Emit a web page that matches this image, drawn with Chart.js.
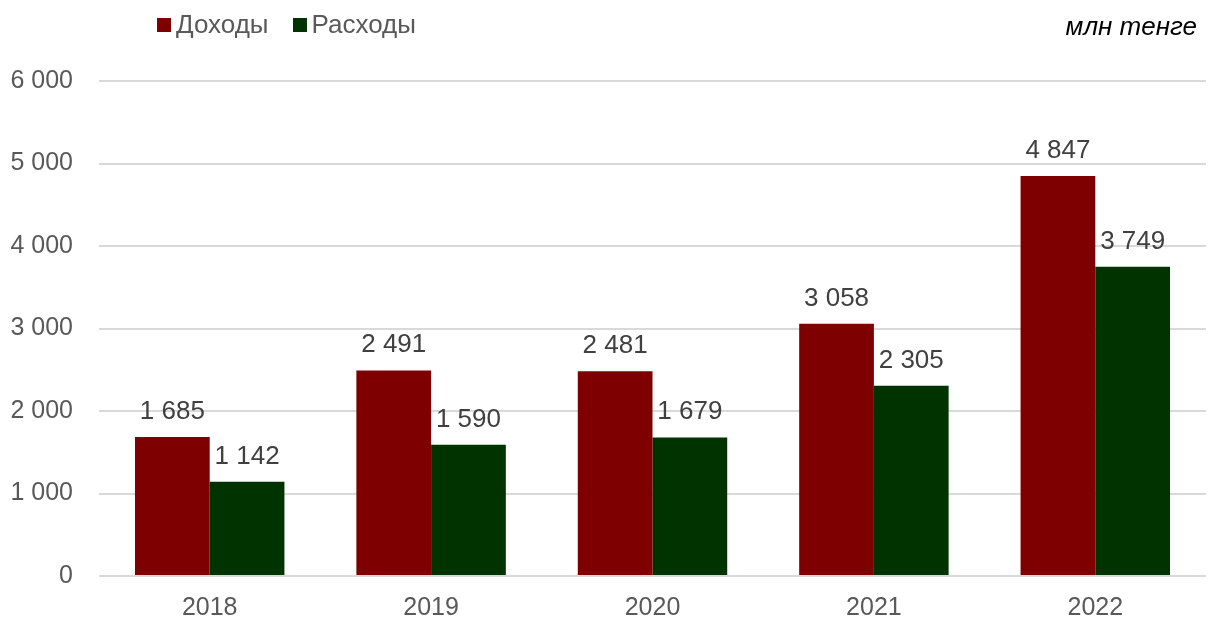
<!DOCTYPE html>
<html lang="ru">
<head>
    <meta charset="UTF-8">
    <title>Доходы и расходы</title>
    <style>
        body { margin: 0; background: #fff; font-family: "Liberation Sans", Arial, sans-serif; }
        .wrap { position: relative; width: 1209px; height: 619px; }
        .legenda { position: absolute; top: 9px; left: 157px; font-size: 26px; color: #595959; display: flex; }
        .legenda span { display: flex; align-items: center; margin-right: 24px; }
        .legenda i { display: inline-block; width: 14px; height: 14px; margin-right: 5px; }
        .unidade { position: absolute; top: 11px; right: 12px; font-size: 26px; font-style: italic; color: #000; }
    </style>
</head>
<body>
    <div class="wrap">
        <canvas id="grafico" width="1209" height="619"></canvas>
        <div class="legenda" id="legenda"></div>
        <div class="unidade">млн тенге</div>
    </div>

    <script src="https://cdn.jsdelivr.net/npm/chart.js"></script>
    <script>
        // dados
        const anos = ['2018', '2019', '2020', '2021', '2022'];
        const doxody = [1685, 2491, 2481, 3058, 4847];
        const rasxody = [1142, 1590, 1679, 2305, 3749];
        const nomes = ['Доходы', 'Расходы'];
        const cores = ['#7f0000', '#013301'];

        const fmt = v => String(v).replace(/\B(?=(\d{3})+(?!\d))/g, ' ');
        const fonte = '"Liberation Sans", Arial, sans-serif';

        // rótulos em cima das barras
        const rotulos = {
            id: 'rotulos',
            afterDatasetsDraw(chart) {
                const ctx = chart.ctx;
                ctx.save();
                ctx.font = '26px ' + fonte;
                ctx.fillStyle = '#404040';
                ctx.textAlign = 'center';
                ctx.textBaseline = 'alphabetic';
                chart.data.datasets.forEach((ds, i) => {
                    chart.getDatasetMeta(i).data.forEach((bar, j) => {
                        ctx.fillText(fmt(ds.data[j]), bar.x, bar.y - 18);
                    });
                });
                ctx.restore();
            }
        };

        const ctx = document.getElementById('grafico').getContext('2d');
        const grafico = new Chart(ctx, {
            type: 'bar',
            data: {
                labels: anos,
                datasets: [
                    { label: nomes[0], data: doxody, backgroundColor: cores[0], borderWidth: 0 },
                    { label: nomes[1], data: rasxody, backgroundColor: cores[1], borderWidth: 0 }
                ]
            },
            options: {
                responsive: false,
                animation: false,
                layout: { padding: { top: 81, right: 3, bottom: 0, left: 0 } },
                datasets: { bar: { categoryPercentage: 0.675, barPercentage: 1 } },
                plugins: {
                    legend: { display: false },
                    tooltip: { enabled: false }
                },
                scales: {
                    x: {
                        afterFit: s => { s.height = 43; },
                        grid: { display: false, drawTicks: false },
                        border: { display: false },
                        ticks: { color: '#595959', padding: 17, font: { size: 25, family: fonte } }
                    },
                    y: {
                        min: 0,
                        max: 6000,
                        afterFit: s => { s.width = 99; },
                        grid: { color: '#d9d9d9', lineWidth: 2, drawTicks: false },
                        border: { display: false },
                        ticks: {
                            stepSize: 1000,
                            padding: 26,
                            color: '#595959',
                            font: { size: 25, family: fonte },
                            callback: v => fmt(v)
                        }
                    }
                }
            },
            plugins: [rotulos]
        });

        // legenda
        const leg = document.getElementById('legenda');
        nomes.forEach((n, i) => {
            const s = document.createElement('span');
            s.innerHTML = '<i style="background:' + cores[i] + '"></i>' + n;
            leg.appendChild(s);
        });
    </script>
</body>
</html>
